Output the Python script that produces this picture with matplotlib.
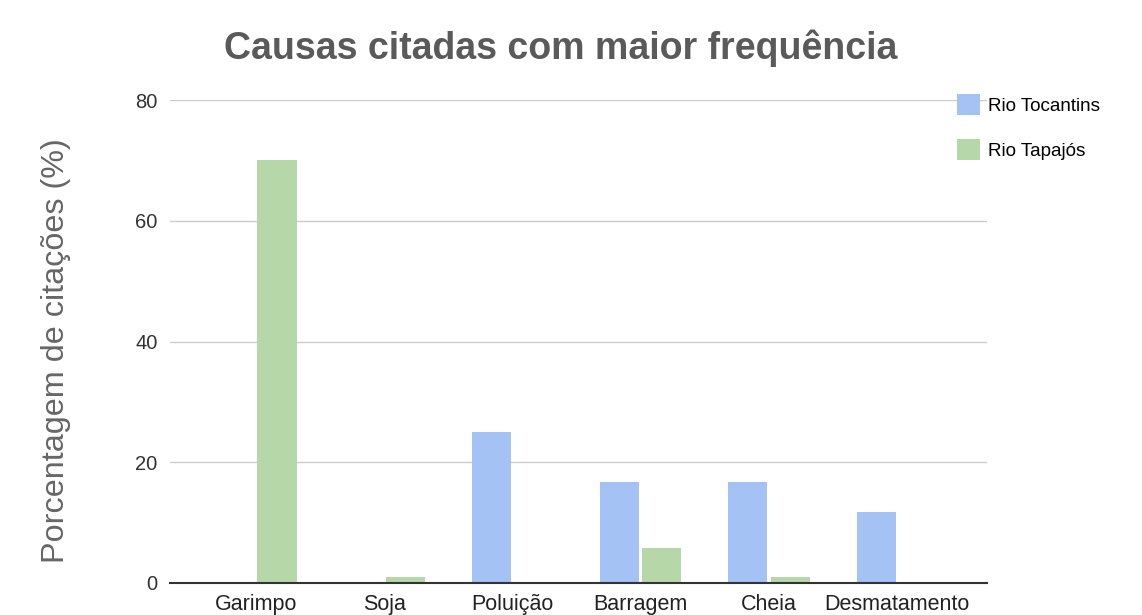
import matplotlib
matplotlib.use("Agg")
import matplotlib.pyplot as plt
import numpy as np

categories = ["Garimpo", "Soja", "Poluição", "Barragem", "Cheia", "Desmatamento"]
tocantins = [0, 0, 25, 16.7, 16.7, 11.8]
tapajos = [70, 1, 0, 5.8, 1, 0]
series_names = ["Rio Tocantins", "Rio Tapajós"]
yticks = [0, 20, 40, 60, 80]

plt.rcParams['font.family'] = ['Liberation Sans', 'DejaVu Sans']

fig = plt.figure(figsize=(11.42, 6.15), dpi=100)
ax = fig.add_axes([170/1142, 1-583/615, (987-170)/1142, (583-100)/615])

x = np.arange(len(categories))
w = 0.305
gap = 0.012
ax.bar(x - w/2 - gap, tocantins, width=w, color="#a4c2f4", label=series_names[0], zorder=3)
ax.bar(x + w/2 + gap, tapajos, width=w, color="#b6d7a8", label=series_names[1], zorder=3)

ax.set_xlim(-0.67, 5.7)
ax.set_ylim(0, 80)
ax.set_yticks(yticks)
ax.set_xticks(x)
ax.set_xticklabels(categories, fontsize=15.5, color="#222222")
ax.tick_params(axis='y', length=0, pad=9, labelsize=14.5, labelcolor="#333333")
ax.tick_params(axis='x', length=0, pad=8)
ax.grid(axis='y', color="#cccccc", linewidth=1, zorder=0)
for s in ["top", "right", "left"]:
    ax.spines[s].set_visible(False)
ax.spines["bottom"].set_color("#333333")
ax.spines["bottom"].set_linewidth(1.5)
ax.spines["bottom"].set_zorder(4)

ax.set_ylabel("Porcentagem de citações (%)", fontsize=23.3, color="#666666")
ax.yaxis.set_label_coords(-0.121, 0.482)
fig.text(0.491, 0.922, "Causas citadas com maior frequência", ha="center", va="center",
         fontsize=27, fontweight="bold", color="#5a5a5a")

leg = fig.legend(loc="upper left", bbox_to_anchor=(940/1142, 1-77/615), frameon=False,
                 fontsize=13.6, handlelength=1.2, handleheight=1.3, handletextpad=0.45,
                 labelspacing=1.3)

fig.savefig("out.png", dpi=100)
